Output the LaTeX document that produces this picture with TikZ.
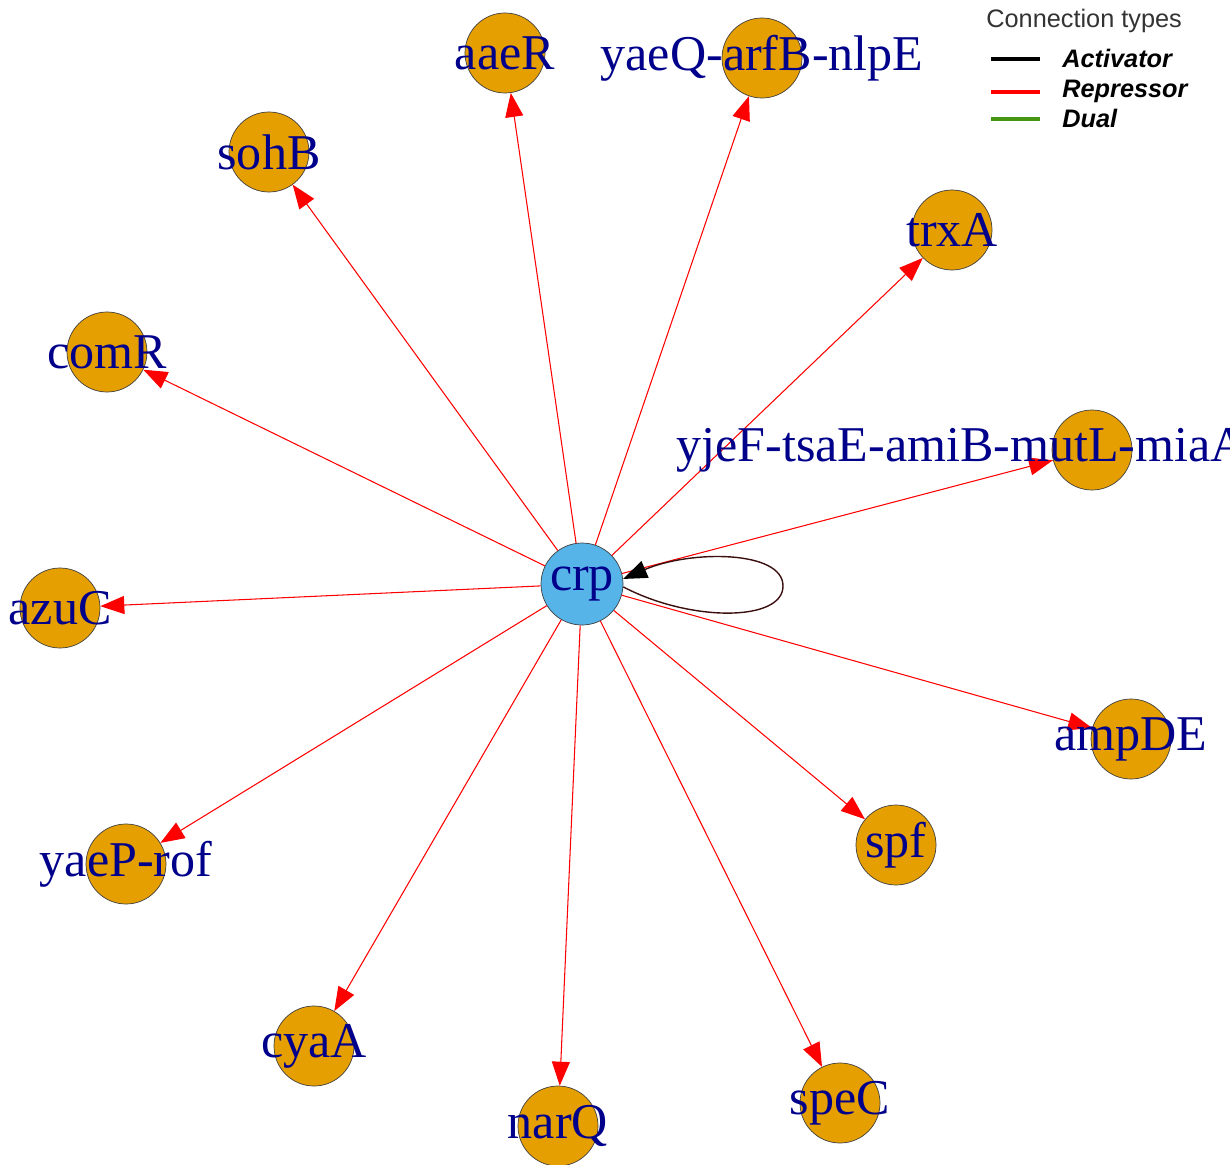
\documentclass[tikz,border=0pt]{standalone}
\usepackage{fontspec}
\setmainfont{Liberation Serif}
\newfontfamily\legendfont{Liberation Sans}
\usetikzlibrary{arrows.meta}

\definecolor{geneorange}{HTML}{E69F00}
\definecolor{hubblue}{HTML}{56B4E9}
\definecolor{labelblue}{HTML}{00008B}
\definecolor{dualgreen}{RGB}{70,150,20}
\definecolor{loopdark}{RGB}{60,15,15}

\tikzset{
  gene/.style={circle, draw=black!75, fill=geneorange, minimum size=16mm, inner sep=0pt, line width=0.4pt},
  hub/.style={gene, fill=hubblue, minimum size=16.4mm},
  lbl/.style={text=labelblue, font=\fontsize{28.5}{30}\selectfont, inner sep=0pt},
  rep/.style={draw=red, line width=0.6pt, -{Triangle[length=4.8mm,width=3.6mm]}},
  act/.style={draw=loopdark, line width=0.8pt, -{Triangle[length=4.8mm,width=3.6mm,color=black]}},
  legtitle/.style={font=\legendfont\fontsize{14.4}{16}\selectfont, text=black!80, inner sep=0pt, anchor=base west},
  legitem/.style={font=\legendfont\fontsize{14.4}{16}\selectfont\bfseries\itshape, inner sep=0pt, anchor=base west},
  legline/.style={line width=2.2pt}
}

\begin{document}
\begin{tikzpicture}[x=0.2mm, y=-0.2mm]

    \useasboundingbox (0,0) rectangle (1230,1165);

    \node[hub] (crp) at (582,584) {};
    \node[gene] (aaeR) at (505,53) {};
    \node[gene] (yaeQ) at (762,58) {};
    \node[gene] (sohB) at (269,152) {};
    \node[gene] (trxA) at (952,230) {};
    \node[gene] (comR) at (107,352) {};
    \node[gene] (yjeF) at (1092,450) {};
    \node[gene] (azuC) at (60,608) {};
    \node[gene] (ampDE) at (1131,739) {};
    \node[gene] (spf) at (896,845) {};
    \node[gene] (yaeP) at (126,864) {};
    \node[gene] (cyaA) at (314,1046) {};
    \node[gene] (narQ) at (558,1126) {};
    \node[gene] (speC) at (840,1103) {};

    \foreach \g in {aaeR,yaeQ,sohB,trxA,comR,yjeF,azuC,ampDE,spf,yaeP,cyaA,narQ,speC}
      \draw[rep] (crp) -- (\g);

    \draw[act] (crp.-4) .. controls (690,622) and (783,622) .. (783,586)
               .. controls (783,550) and (690,550) .. (crp.7);

    \foreach \g/\t in {crp/crp, aaeR/aaeR, yaeQ/yaeQ-arfB-nlpE, sohB/sohB, trxA/trxA,
                       comR/comR, azuC/azuC, ampDE/ampDE, spf/spf, yaeP/yaeP-rof,
                       cyaA/cyaA, narQ/narQ, speC/speC}
      \node[lbl] (lbl\g) at (\g) {\t};
    \node[lbl, anchor=west] (lblyjeF) at ([xshift=-83.2mm]yjeF.center) {yjeF-tsaE-amiB-mutL-miaA};

    \node[legtitle] (legend) at (986,28) {Connection types};
    \node[legitem] (actlbl) at (1062,68) {Activator};
    \node[legitem] (replbl) at (1062,98) {Repressor};
    \node[legitem] (duallbl) at (1062,128) {Dual};
    \draw[legline, black] ([xshift=-14.2mm]actlbl.west) -- ([xshift=-4.4mm]actlbl.west);
    \draw[legline, red] ([xshift=-14.2mm]replbl.west) -- ([xshift=-4.4mm]replbl.west);
    \draw[legline, dualgreen] ([xshift=-14.2mm]duallbl.west) -- ([xshift=-4.4mm]duallbl.west);

\end{tikzpicture}
\end{document}
